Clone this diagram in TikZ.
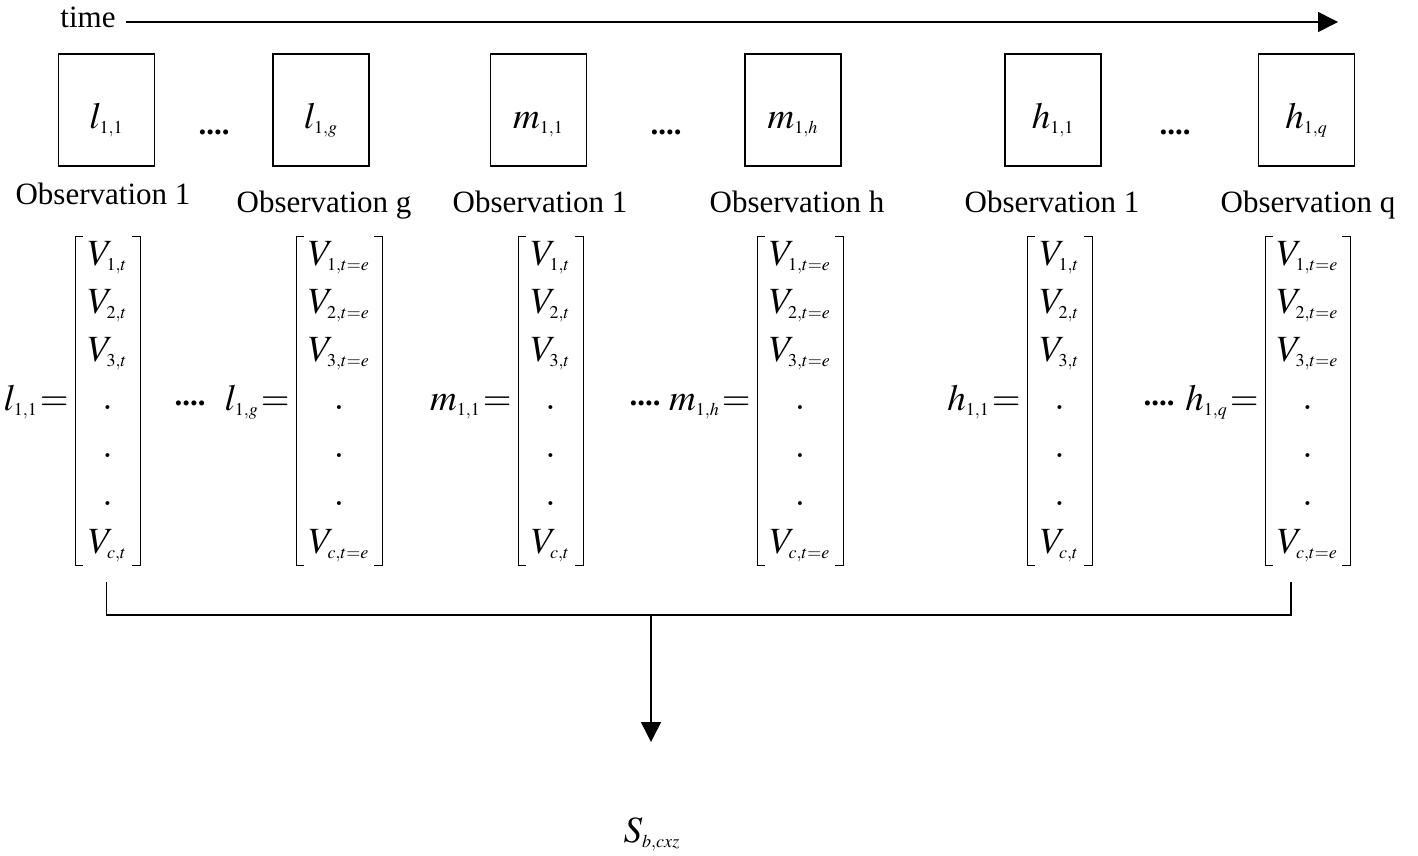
\documentclass[tikz,border=0pt]{standalone}
\usepackage{mathptmx}
\usepackage[no-math]{fontspec}
\setmainfont{Liberation Serif}
\usetikzlibrary{arrows.meta}
\DeclareMathSizes{18.5}{18.5}{9}{7}
\newcommand{\mfont}{\fontsize{18.5}{22}\selectfont}
\newcommand{\tfont}{\fontsize{15.5}{18}\selectfont}
\tikzset{
  obsbox/.style={draw, line width=0.65pt, minimum width=48pt, minimum height=56pt, inner sep=0pt, text height=18pt, text depth=0pt, font=\mfont},
  obslab/.style={anchor=base, inner sep=0pt, font=\tfont},
  ent/.style={anchor=base, inner sep=0pt, font=\mfont},
  eqlab/.style={ent, anchor=base east, execute at begin node={\thickmuskip=1mu}},
  more/.style={anchor=base, inner sep=0pt, font=\tfont\bfseries},
  brk/.style={line width=0.5pt},
  flow/.style={line width=0.75pt},
  tip/.style={-{Triangle[length=10pt,width=10pt]}}
}
\begin{document}
\begin{tikzpicture}[x=0.5pt,y=-0.5pt]
  \useasboundingbox (0,0) rectangle (1418,856);
  \node[anchor=base west, inner xsep=5pt, inner ysep=0pt, font=\tfont] (time) at (50,28) {time};
  \coordinate (tend) at (1338,22);
  \draw[flow,tip] (time.east |- tend) -- (tend);
  \foreach \n/\x/\lab in {1/106.5/{l_{1,1}}, 2/321/{l_{1,g}}, 3/538.5/{m_{1,1}}, 4/793/{m_{1,h}}, 5/1053/{h_{1,1}}, 6/1306.5/{h_{1,q}}}
    \node[obsbox] (box\n) at (\x,110) {$\lab$};
  \foreach \x [count=\n] in {214,666,1175}
    \node[more] (more\n) at (\x,134) {....};
  \foreach \x/\y/\o [count=\n] in {103/204/1, 324/212/g, 540/212/1, 797/212/h, 1052/212/1, 1308/212/q}
    \node[obslab] (obs\n) at (\x,\y) {Observation \o};
  \foreach \n/\lx/\rx/\s/\lab in {1/75/140/t/{l_{1,1}}, 2/296/382/{t=e}/{l_{1,g}}, 3/518/583/t/{m_{1,1}}, 4/757/843/{t=e}/{m_{1,h}}, 5/1027/1092/t/{h_{1,1}}, 6/1265/1350/{t=e}/{h_{1,q}}} {
    \node[eqlab] (vec\n) at (\lx-6,410) {$\lab=$};
    \draw[brk] (\lx+8,236) -- (\lx,236) -- (\lx,565) -- (\lx+8,565);
    \draw[brk] (\rx-8,236) -- (\rx,236) -- (\rx,565) -- (\rx-8,565);
    \foreach \k/\e in {0/1, 1/2, 2/3, 6/c}
      \node[ent] (v\n-\e) at ({(\lx+\rx)/2},265+48*\k) {$V_{\e,\s}$};
    \foreach \k in {3,4,5}
      \node[ent] (d\n-\k) at ({(\lx+\rx)/2},265+48*\k) {$.$};
  }
  \foreach \x [count=\n] in {190,645,1159}
    \node[more] (gap\n) at (\x,405) {....};
  \coordinate (j1) at (106.5,582);
  \coordinate (j6) at (1291,582);
  \coordinate (mid) at (651,615);
  \coordinate (down) at (651,742);
  \draw[flow] (j1) |- (mid) -| (j6);
  \draw[flow,tip] (mid) -- (down);
  \node[ent] (sum) at (652,842) {$S_{b,cxz}$};
\end{tikzpicture}
\end{document}
